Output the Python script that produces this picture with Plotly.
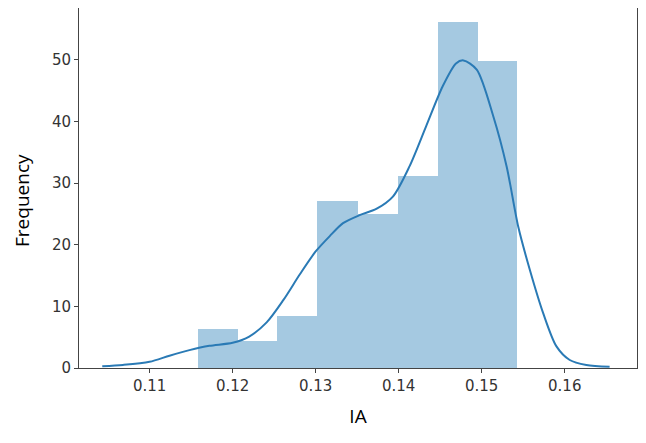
import plotly.graph_objects as go

# histogram (density-scaled, as seaborn distplot)
bin_edges = [0.1158, 0.1206, 0.1254, 0.1302, 0.1351, 0.1399, 0.1447, 0.1495, 0.1543]
bar_heights = [6.3, 4.4, 8.5, 27.1, 25.0, 31.2, 56.1, 49.8]

# kde curve
kde_x = [0.1043, 0.1068, 0.1100, 0.1124, 0.1148, 0.1172, 0.1200, 0.1220, 0.1241,
         0.1261, 0.1281, 0.1300, 0.1317, 0.1333, 0.1353, 0.1373, 0.1393, 0.1413,
         0.1433, 0.1453, 0.1469, 0.1478, 0.1494, 0.1514, 0.1530, 0.1544, 0.1558,
         0.1574, 0.1590, 0.1606, 0.1626, 0.1654]
kde_y = [0.3, 0.5, 1.0, 2.0, 2.9, 3.6, 4.1, 5.1, 7.4,
         11.0, 15.2, 18.9, 21.4, 23.5, 24.8, 25.8, 27.8, 32.7,
         39.2, 45.7, 49.4, 49.9, 48.4, 40.8, 32.7, 22.9, 15.9,
         8.9, 3.5, 1.3, 0.5, 0.2]

centers = [(a + b) / 2 for a, b in zip(bin_edges[:-1], bin_edges[1:])]
widths = [b - a for a, b in zip(bin_edges[:-1], bin_edges[1:])]

fig = go.Figure()
fig.add_trace(go.Bar(x=centers, y=bar_heights, width=widths,
                     marker=dict(color='rgba(31,119,180,0.4)', line=dict(width=0)),
                     showlegend=False))
fig.add_trace(go.Scatter(x=kde_x, y=kde_y, mode='lines', line_shape='spline',
                         line=dict(color='#2a7ab5', width=2, smoothing=0.8),
                         showlegend=False))

axis_common = dict(showline=True, linecolor='#444', linewidth=1, mirror=True,
                   ticks='outside', ticklen=4, tickcolor='#444', showgrid=False,
                   zeroline=False, automargin=False,
                   tickfont=dict(family='DejaVu Sans', size=15, color='#333'))

# page body adds an 8px margin, so the figure is a bit smaller
fig.update_layout(
    width=638, height=435,
    margin=dict(l=71, r=9, t=0, b=75),
    plot_bgcolor='white', paper_bgcolor='white',
    bargap=0,
    xaxis=dict(range=[0.1015, 0.1687], tickvals=[0.11, 0.12, 0.13, 0.14, 0.15, 0.16],
               ticktext=['0.11', '0.12', '0.13', '0.14', '0.15', '0.16'],
               title=dict(text='IA', standoff=15,
                          font=dict(family='Open Sans', size=19, color='black')),
               **axis_common),
    yaxis=dict(range=[0, 58.4], tickvals=[0, 10, 20, 30, 40, 50], **axis_common),
)

# y label sits a little below the axes centre in the original
fig.add_annotation(text='Frequency', textangle=-90, xref='paper', yref='paper',
                   x=0, y=0.464, xanchor='center', yanchor='middle', xshift=-57,
                   showarrow=False,
                   font=dict(family='Open Sans', size=19, color='black'))

fig.write_html("out.html")
